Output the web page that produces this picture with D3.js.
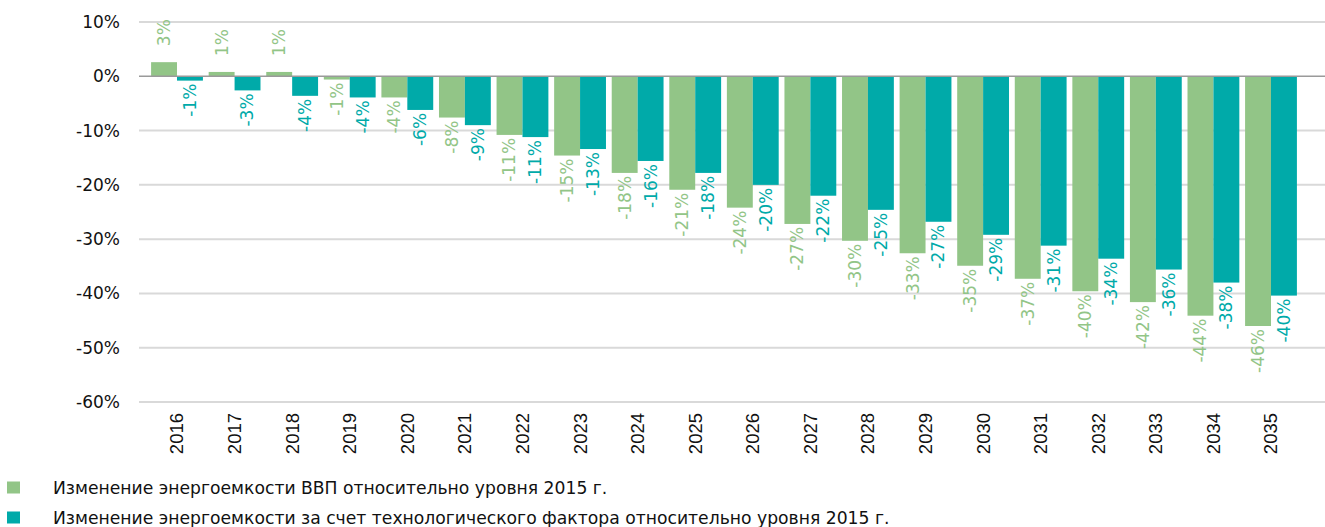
<!DOCTYPE html>
<html>
<head>
<meta charset="utf-8">
<script src="https://cdn.jsdelivr.net/npm/d3@7"></script>
<style>
  html, body { margin: 0; padding: 0; background: #fff; }
  svg { display: block; font-family: "DejaVu Sans", sans-serif; }
</style>
</head>
<body>
<svg id="chart" width="1325" height="527"></svg>
<script>
// Years on the x axis
const years = ["2016","2017","2018","2019","2020","2021","2022","2023","2024","2025",
               "2026","2027","2028","2029","2030","2031","2032","2033","2034","2035"];

// Change in GDP energy intensity vs 2015, %
const gdpIntensity = [2.6, 0.8, 0.8, -0.6, -3.9, -7.6, -10.8, -14.6, -17.8, -20.9,
                      -24.2, -27.2, -30.3, -32.6, -34.9, -37.3, -39.6, -41.6, -44.1, -46.0];

// Change in energy intensity due to the technology factor vs 2015, %
const techIntensity = [-0.8, -2.6, -3.6, -3.9, -6.2, -9.0, -11.2, -13.4, -15.6, -17.8,
                       -20.0, -22.0, -24.6, -26.8, -29.2, -31.2, -33.6, -35.6, -38.0, -40.4];

const seriesNames = [
  "Изменение энергоемкости ВВП относительно уровня 2015 г.",
  "Изменение энергоемкости за счет технологического фактора относительно уровня 2015 г."
];
const seriesColors = ["#92c587", "#00aaa9"];

// Y axis ticks, %
const yTicks = [10, 0, -10, -20, -30, -40, -50, -60];

const svg = d3.select("#chart");
const plotLeft = 139, plotRight = 1325, plotTop = 22, plotBottom = 402;

const y = d3.scaleLinear().domain([10, -60]).range([plotTop, plotBottom]);

const x0 = d3.scaleBand().domain(years).range([plotLeft, 1309])
  .paddingInner(0.1).paddingOuter(0.21);
const x1 = d3.scaleBand().domain([0, 1]).range([0, x0.bandwidth()]);

// Gridlines
svg.append("g")
  .selectAll("line")
  .data(yTicks.filter(d => d !== 0))
  .join("line")
  .attr("x1", plotLeft).attr("x2", plotRight)
  .attr("y1", d => y(d)).attr("y2", d => y(d))
  .attr("stroke", "#d9d9d9").attr("stroke-width", 2);

// Y axis labels
const yAxis = d3.axisLeft(y).tickValues(yTicks).tickSize(0).tickPadding(0)
  .tickFormat(d => d + "%");
svg.append("g")
  .attr("transform", `translate(120,0)`)
  .call(yAxis)
  .call(g => g.select(".domain").remove())
  .call(g => g.selectAll("text")
    .attr("font-size", 17).attr("fill", "#111")
    .attr("font-family", "'DejaVu Sans', sans-serif"));

// Bars and value labels (plain hyphen for the minus sign)
const data = years.map((yr, i) => ({ year: yr, values: [gdpIntensity[i], techIntensity[i]] }));
const fmt = v => Math.round(v) + "%";

const groups = svg.append("g")
  .selectAll("g")
  .data(data)
  .join("g")
  .attr("transform", d => `translate(${x0(d.year)},0)`);

groups.selectAll("rect")
  .data(d => d.values.map((v, k) => ({ v, k })))
  .join("rect")
  .attr("x", d => x1(d.k))
  .attr("width", x1.bandwidth())
  .attr("y", d => y(Math.max(0, d.v)))
  .attr("height", d => Math.abs(y(d.v) - y(0)))
  .attr("fill", d => seriesColors[d.k]);

groups.selectAll("text")
  .data(d => d.values.map((v, k) => ({ v, k })))
  .join("text")
  .attr("transform", d => {
    const cx = x1(d.k) + x1.bandwidth() / 2;
    const cy = d.v >= 0 ? y(d.v) - 16 : y(d.v) + 3;
    return `translate(${cx},${cy}) rotate(-90)`;
  })
  .attr("text-anchor", d => d.v >= 0 ? "start" : "end")
  .attr("dy", "0.35em")
  .attr("font-size", 17)
  .attr("fill", d => seriesColors[d.k])
  .text(d => fmt(d.v));

// Zero line
svg.append("line")
  .attr("x1", plotLeft).attr("x2", plotRight)
  .attr("y1", y(0)).attr("y2", y(0))
  .attr("stroke", "#9a9a9a").attr("stroke-width", 1.5);

// Year labels
const xAxis = d3.axisBottom(x0).tickSize(0).tickPadding(0);
svg.append("g")
  .attr("transform", `translate(0,413)`)
  .call(xAxis)
  .call(g => g.select(".domain").remove())
  .call(g => g.selectAll("text")
    .attr("transform", "rotate(-90)")
    .attr("text-anchor", "end")
    .attr("x", 0).attr("y", 0).attr("dy", "0.35em")
    .attr("font-size", 18.5).attr("fill", "#111")
    .attr("font-family", "'Liberation Sans', Arial, sans-serif"));

// Legend
const legend = svg.append("g")
  .selectAll("g")
  .data(seriesNames)
  .join("g")
  .attr("transform", (d, i) => `translate(7,${481.5 + i * 30})`);
legend.append("rect")
  .attr("width", 13).attr("height", 12)
  .attr("fill", (d, i) => seriesColors[i]);
legend.append("text")
  .attr("x", 46).attr("y", 6).attr("dy", "0.35em")
  .attr("font-size", 17.2).attr("fill", "#111")
  .text(d => d);
</script>
</body>
</html>
